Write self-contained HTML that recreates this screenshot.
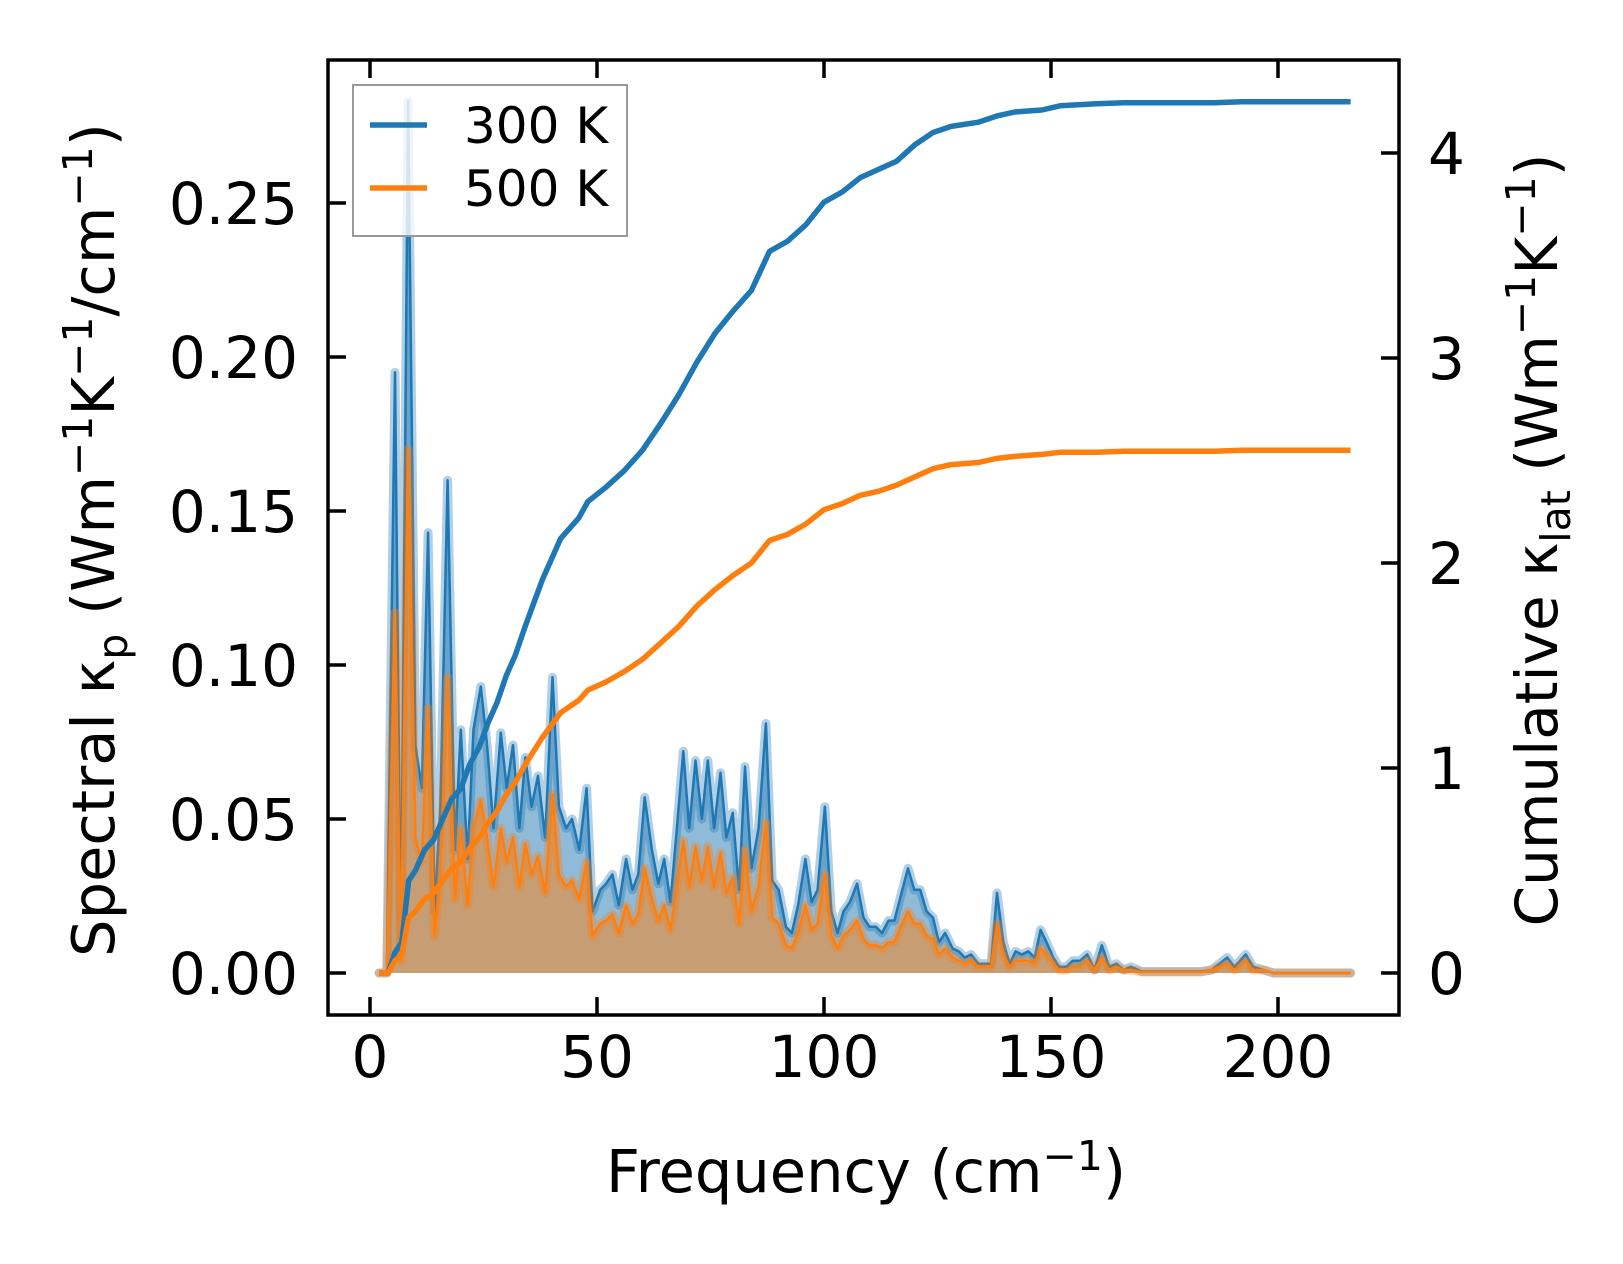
<!DOCTYPE html>
<html><head><meta charset="utf-8"><style>
html,body{margin:0;padding:0;background:#fff;}
svg{display:block;font-family:"DejaVu Sans","Liberation Sans",sans-serif;}
</style></head><body>
<svg id="chart" width="1623" height="1264" viewBox="0 0 1623 1264">
<defs><clipPath id="clip"><rect x="328" y="60" width="1071" height="955"/></clipPath></defs>
<g id="marks" clip-path="url(#clip)"></g>
<rect x="328" y="60" width="1071" height="955" fill="none" stroke="#000" stroke-width="3.5"/>
<g id="ticks"></g>
<text x="866" y="1192" font-size="59" text-anchor="middle">Frequency (cm<tspan dy="-22" font-size="41">−1</tspan><tspan dy="22">)</tspan></text>
<text transform="translate(114,540) rotate(-90)" font-size="59" text-anchor="middle">Spectral κ<tspan dy="13" font-size="41">p</tspan><tspan dy="-13"> (Wm</tspan><tspan dy="-22" font-size="41">−1</tspan><tspan dy="22">K</tspan><tspan dy="-22" font-size="41">−1</tspan><tspan dy="22">/cm</tspan><tspan dy="-22" font-size="41">−1</tspan><tspan dy="22">)</tspan></text>
<text transform="translate(1557,540) rotate(-90)" font-size="58" text-anchor="middle">Cumulative κ<tspan dy="13" font-size="41">lat</tspan><tspan dy="-13"> (Wm</tspan><tspan dy="-22" font-size="41">−1</tspan><tspan dy="22">K</tspan><tspan dy="-22" font-size="41">−1</tspan><tspan dy="22">)</tspan></text>
<g>
<rect x="353" y="85" width="274" height="151" fill="#fff" fill-opacity="0.8" stroke="#999" stroke-width="2"/>
<line x1="370" y1="125" x2="427" y2="125" stroke="#1f77b4" stroke-width="5.5"/>
<text x="464" y="143" font-size="50">300 K</text>
<line x1="370" y1="188" x2="427" y2="188" stroke="#ff7f0e" stroke-width="5.5"/>
<text x="464" y="206" font-size="50">500 K</text>
</g>
</svg>
<script>
const specFreq=[2,3.7,5.5,6.8,8.4,10,11.4,12.8,14.2,15.5,17.1,18.7,20,21.5,22.8,24.4,25.8,27.2,28.8,30.1,31.5,32.9,34.2,35.6,37,38.6,40.2,41.6,43.2,44.5,46.1,47.7,49,50.7,52,53.4,54.8,56.4,57.8,59.1,60.5,62.1,63.5,64.8,66.2,67.6,69,70.3,71.7,73.1,74.4,75.8,77.2,78.5,79.9,81.3,82.6,84,85.6,87.2,88.6,90,91.6,92.9,94.3,95.9,97.3,98.6,100.2,101.6,103,104.3,105.7,107.3,108.7,110,111.4,112.8,114.2,115.5,116.9,118.5,119.9,121.2,122.6,124,125.3,126.7,128.3,129.7,131,132.4,134,135.4,136.8,138.1,139.5,140.9,142.2,143.6,145,146.4,147.7,149,150.5,151.8,153.4,154.8,156.4,158,159.6,161.2,162.8,164.4,166,167.6,170,183,185.4,188.8,190.4,192.9,194.5,196.8,199,216];
const spec300=[0,0,0.195,0.007,0.283,0.074,0.06,0.143,0.02,0.054,0.16,0.04,0.079,0.037,0.079,0.093,0.074,0.047,0.078,0.06,0.074,0.047,0.07,0.054,0.064,0.044,0.096,0.054,0.047,0.05,0.04,0.06,0.02,0.027,0.029,0.032,0.022,0.037,0.027,0.032,0.057,0.04,0.029,0.037,0.023,0.047,0.072,0.047,0.069,0.05,0.069,0.047,0.065,0.044,0.052,0.027,0.067,0.034,0.047,0.081,0.03,0.027,0.015,0.013,0.022,0.037,0.023,0.027,0.054,0.02,0.013,0.02,0.023,0.029,0.018,0.015,0.015,0.013,0.017,0.017,0.025,0.034,0.027,0.027,0.02,0.018,0.01,0.013,0.008,0.007,0.005,0.006,0.003,0.003,0.003,0.026,0.01,0.003,0.007,0.006,0.007,0.005,0.014,0.01,0.005,0.002,0.002,0.004,0.004,0.006,0.001,0.009,0.002,0.003,0.001,0.002,0.0005,0.0005,0.001,0.005,0.002,0.006,0.002,0.001,0,0];
const spec500=[0,0,0.117,0.004,0.17,0.044,0.036,0.086,0.012,0.032,0.096,0.024,0.047,0.022,0.047,0.056,0.044,0.028,0.047,0.036,0.044,0.028,0.042,0.032,0.038,0.026,0.058,0.032,0.028,0.03,0.024,0.036,0.012,0.016,0.017,0.019,0.013,0.022,0.016,0.019,0.034,0.024,0.017,0.022,0.014,0.028,0.043,0.028,0.041,0.03,0.041,0.028,0.039,0.026,0.031,0.016,0.04,0.02,0.028,0.049,0.018,0.016,0.009,0.008,0.013,0.022,0.014,0.016,0.032,0.012,0.008,0.012,0.014,0.017,0.011,0.009,0.009,0.008,0.01,0.01,0.015,0.02,0.016,0.016,0.012,0.011,0.006,0.008,0.005,0.004,0.003,0.004,0.002,0.002,0.002,0.016,0.006,0.002,0.004,0.004,0.004,0.003,0.008,0.006,0.003,0.001,0.001,0.002,0.002,0.004,0.001,0.005,0.001,0.002,0.001,0.001,0.0003,0.0003,0.001,0.003,0.001,0.004,0.001,0.001,0,0];
const cumFreq=[2,4,5.5,7,8.5,10,12,14,16,18,20,22,24,26,28,30,32,34,36,38,40,42,46,48,52,56,60,64,68,72,76,80,84,88,92,96,100,104,108,112,116,120,124,128,134,138,142,148,152,160,166,180,186,192,200,216];
const cum300=[0,0,0.1,0.15,0.45,0.5,0.6,0.65,0.75,0.85,0.9,1.02,1.1,1.22,1.32,1.45,1.55,1.68,1.8,1.92,2.02,2.12,2.22,2.3,2.37,2.45,2.55,2.68,2.82,2.98,3.12,3.23,3.33,3.52,3.57,3.65,3.76,3.81,3.88,3.92,3.96,4.04,4.1,4.13,4.15,4.18,4.2,4.21,4.23,4.24,4.245,4.245,4.245,4.25,4.25,4.25];
const cum500=[0,0,0.06,0.09,0.27,0.3,0.36,0.39,0.45,0.51,0.54,0.61,0.66,0.73,0.79,0.87,0.93,1.01,1.08,1.15,1.21,1.27,1.33,1.38,1.42,1.47,1.53,1.61,1.69,1.79,1.87,1.94,2.0,2.11,2.14,2.19,2.26,2.29,2.33,2.35,2.38,2.42,2.46,2.48,2.49,2.51,2.52,2.53,2.54,2.54,2.545,2.545,2.545,2.55,2.55,2.55];
const xTicks=[0,50,100,150,200];
const leftTicks=[0,0.05,0.10,0.15,0.20,0.25];
const leftTickLabels=["0.00","0.05","0.10","0.15","0.20","0.25"];
const rightTicks=[0,1,2,3,4];

const X=v=>370+v*4.54;
const YL=v=>973-v*3080;
const YR=v=>973-v*205;
const NS="http://www.w3.org/2000/svg";
const marks=document.getElementById('marks');
const ticks=document.getElementById('ticks');
function mk(tag,attrs,parent){const e=document.createElementNS(NS,tag);for(const k in attrs)e.setAttribute(k,attrs[k]);parent.appendChild(e);return e;}
function pathFrom(fx,fy,Y){return fx.map((f,i)=>(i?'L':'M')+X(f).toFixed(1)+','+Y(fy[i]).toFixed(1)).join('');}

function spectral(vals,color,name){
  const d=pathFrom(specFreq,vals,YL);
  const area=mk('path',{d:d+'L'+X(specFreq[specFreq.length-1])+','+YL(0)+'L'+X(specFreq[0])+','+YL(0)+'Z',fill:color,'fill-opacity':0.5},marks);
  
  
  const halo=mk('path',{d:d,fill:'none',stroke:color,'stroke-opacity':0.35,'stroke-width':9,'stroke-linejoin':'round','stroke-linecap':'round'},marks);
  
  
  const ln=mk('path',{d:d,fill:'none',stroke:color,'stroke-width':2.5,'stroke-linejoin':'round'},marks);
  
  
}
spectral(spec300,'#1f77b4','spectral-300k');
spectral(spec500,'#ff7f0e','spectral-500k');
const c1=mk('path',{d:pathFrom(cumFreq,cum300,YR),fill:'none',stroke:'#1f77b4','stroke-width':5.5,'stroke-linejoin':'round'},marks);


const c2=mk('path',{d:pathFrom(cumFreq,cum500,YR),fill:'none',stroke:'#ff7f0e','stroke-width':5.5,'stroke-linejoin':'round'},marks);



xTicks.forEach(v=>{
  const x=X(v);
  const t1=mk('line',{x1:x,y1:1015,x2:x,y2:997,stroke:'#000','stroke-width':3.5},ticks);
  
  
  const t2=mk('line',{x1:x,y1:60,x2:x,y2:78,stroke:'#000','stroke-width':3.5},ticks);
  
  
  const lb=mk('text',{x:x,y:1077,'font-size':58,'text-anchor':'middle'},ticks);
  lb.textContent=v;
  
  
});
leftTicks.forEach((v,i)=>{
  const y=YL(v);
  const t=mk('line',{x1:328,y1:y,x2:346,y2:y,stroke:'#000','stroke-width':3.5},ticks);
  
  
  const lb=mk('text',{x:298,y:y+21,'font-size':58,'text-anchor':'end'},ticks);
  lb.textContent=leftTickLabels[i];
  
  
});
rightTicks.forEach(v=>{
  const y=YR(v);
  const t=mk('line',{x1:1381,y1:y,x2:1399,y2:y,stroke:'#000','stroke-width':3.5},ticks);
  
  
  const lb=mk('text',{x:1428,y:y+21,'font-size':58},ticks);
  lb.textContent=v;
  
  
});
</script>
</body></html>
